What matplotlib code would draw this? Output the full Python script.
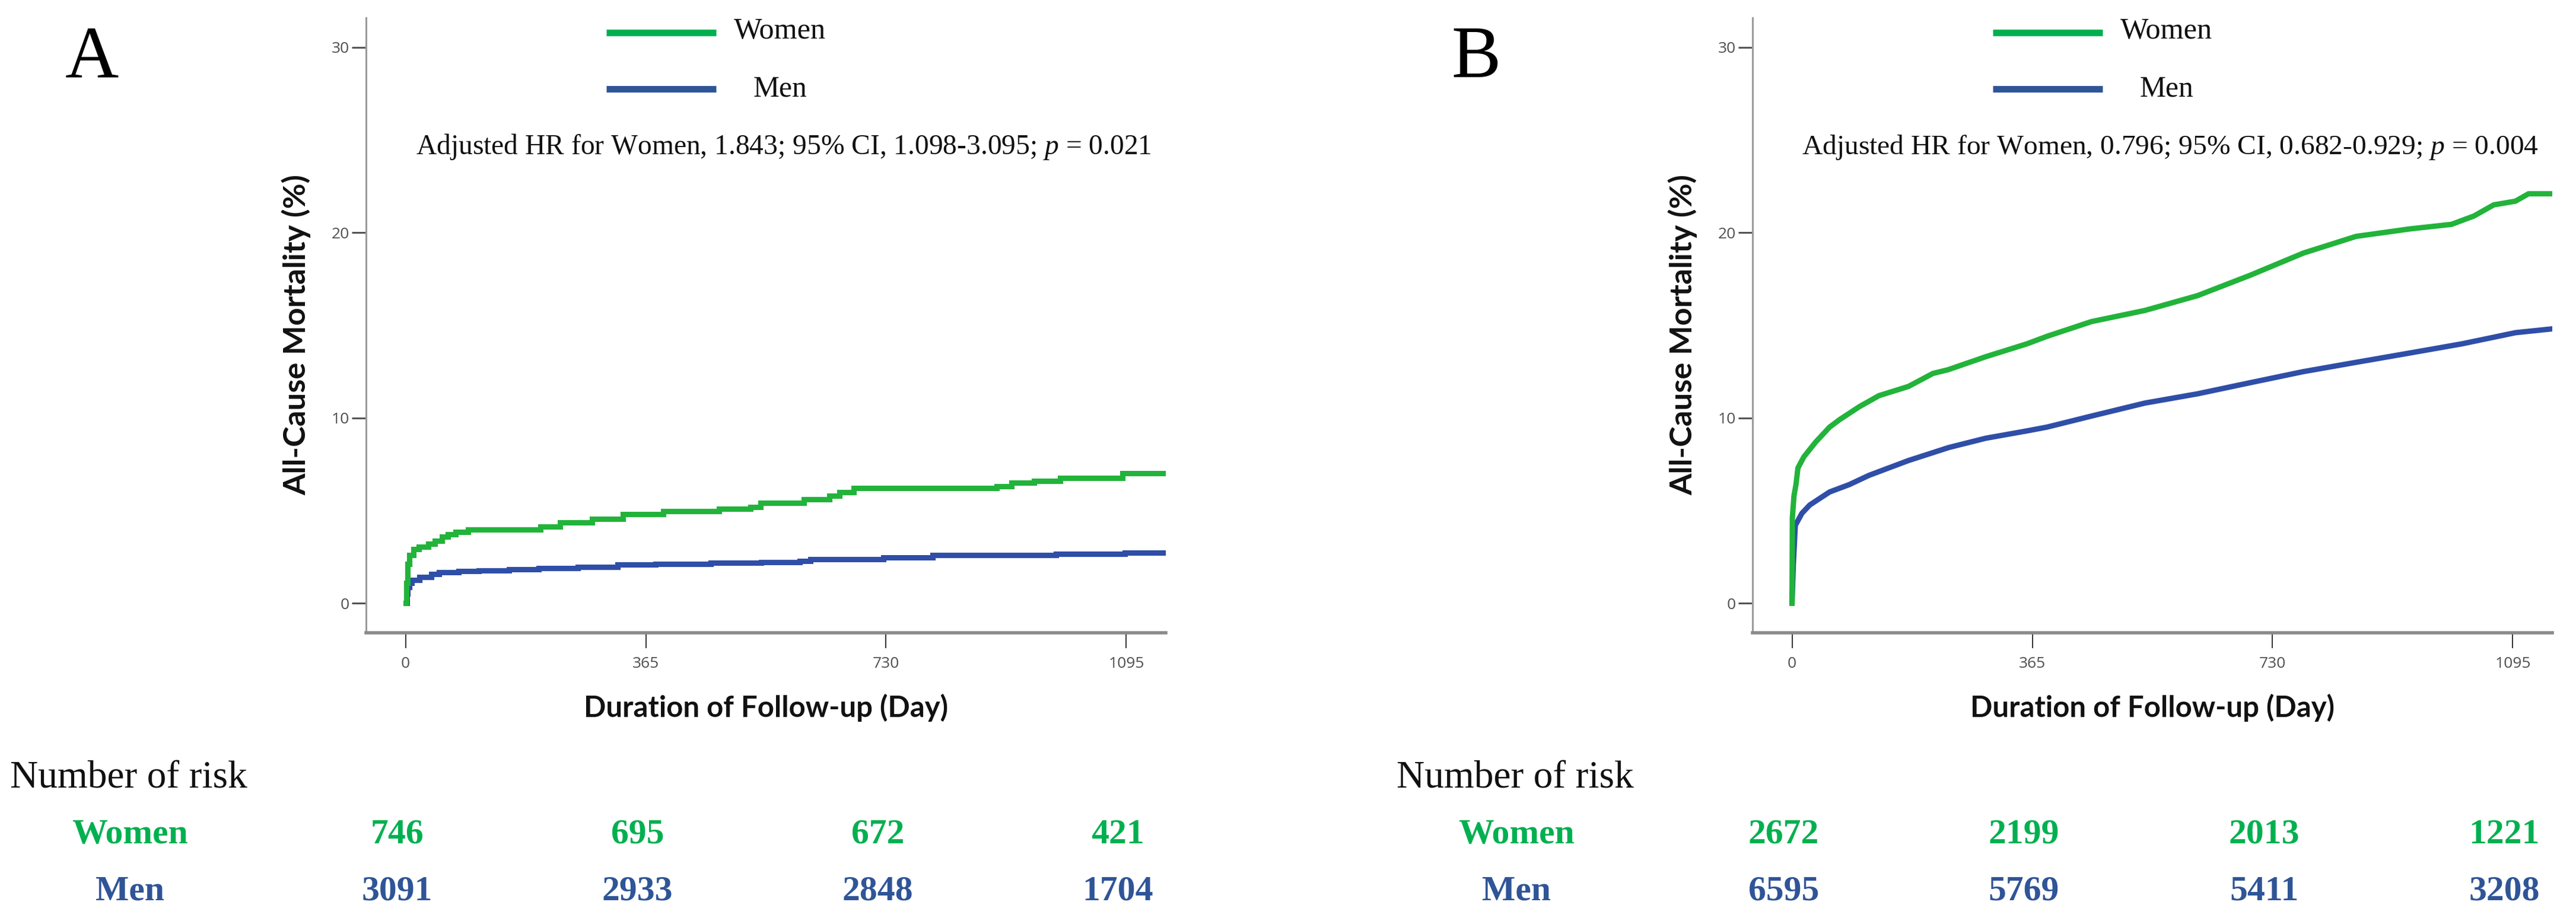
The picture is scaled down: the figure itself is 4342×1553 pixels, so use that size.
import matplotlib
matplotlib.use("Agg")
import matplotlib.pyplot as plt
from matplotlib.lines import Line2D
import matplotlib.transforms as mtransforms

# ---------------- data ----------------
tick_days = [0, 365, 730, 1095]
y_ticks = [0, 10, 20, 30]

# Panel A (Kaplan-Meier cumulative mortality, %)
a_women_day = [0, 1, 3, 6, 12, 20, 35, 45, 55, 64, 76, 95, 205, 235, 283, 330, 392,
               476, 524, 539, 605, 644, 659, 681, 898, 921, 955, 995, 1089, 1156]
a_women_val = [0, 1.1, 2.1, 2.6, 2.9, 3.05, 3.2, 3.37, 3.6, 3.7, 3.85, 3.96, 4.14, 4.35,
               4.55, 4.8, 4.95, 5.1, 5.2, 5.4, 5.6, 5.8, 6.0, 6.2, 6.3, 6.5, 6.6, 6.75,
               7.0, 7.0]
a_men_day = [0, 2, 3, 6, 9, 21, 39, 51, 81, 111, 157, 202, 262, 322, 380, 464, 540,
             599, 615, 726, 801, 988, 1093, 1156]
a_men_val = [0, 0.5, 0.86, 1.1, 1.24, 1.4, 1.56, 1.66, 1.72, 1.75, 1.83, 1.88, 1.96,
             2.07, 2.12, 2.19, 2.22, 2.26, 2.37, 2.47, 2.6, 2.65, 2.72, 2.72]

# Panel B
b_women_day = [0, 0.5, 3, 6, 9, 18, 36, 57, 72, 102, 132, 177, 214, 237, 294, 357, 387,
               455, 536, 616, 696, 777, 857, 938, 1002, 1036, 1066, 1099, 1119, 1153]
b_women_val = [0, 4.6, 5.8, 6.4, 7.3, 7.9, 8.7, 9.5, 9.9, 10.6, 11.2, 11.7, 12.4, 12.6,
               13.3, 14.0, 14.4, 15.2, 15.8, 16.6, 17.7, 18.9, 19.8, 20.2, 20.45, 20.9,
               21.5, 21.7, 22.1, 22.1]
b_men_day = [0, 2, 5, 15, 27, 57, 87, 117, 177, 238, 294, 357, 387, 455, 536, 616, 696,
             777, 857, 938, 1018, 1099, 1153]
b_men_val = [0, 2.1, 4.2, 4.85, 5.3, 6.0, 6.4, 6.9, 7.7, 8.4, 8.9, 9.3, 9.5, 10.1, 10.8,
             11.3, 11.9, 12.5, 13.0, 13.5, 14.0, 14.6, 14.8]

a_risk_women = [746, 695, 672, 421]
a_risk_men = [3091, 2933, 2848, 1704]
b_risk_women = [2672, 2199, 2013, 1221]
b_risk_men = [6595, 5769, 5411, 3208]

a_annot = "Adjusted HR for Women, 1.843; 95% CI, 1.098-3.095; $\\mathit{p}$ = 0.021"
b_annot = "Adjusted HR for Women, 0.796; 95% CI, 0.682-0.929; $\\mathit{p}$ = 0.004"

# ---------------- style ----------------
W, H = 4342, 1553
plt.rcParams['mathtext.fontset'] = 'custom'
plt.rcParams['mathtext.rm'] = 'Liberation Serif'
plt.rcParams['mathtext.it'] = 'Liberation Serif:italic'

GREEN_LINE = '#22B33A'
BLUE_LINE = '#2F4EA8'
GREEN_TXT = '#00B050'
BLUE_TXT = '#2F5597'
SERIF = 'Liberation Serif'
SANS = 'Lato'

fig = plt.figure(figsize=(W / 100, H / 100), dpi=100)
renderer = fig.canvas.get_renderer()


def fx(px):
    return px / W


def fy(py):
    return 1 - py / H


def fit(t, target, dim='w', base=30):
    t.set_fontsize(base)
    ext = t.get_window_extent(renderer)
    cur = ext.width if dim == 'w' else ext.height
    t.set_fontsize(base * target / cur)
    return t


panels = [
    dict(left=617, letter='A', letter_x=155,
         women=(a_women_day, a_women_val), men=(a_men_day, a_men_val),
         steps=True, annot=a_annot, rw=a_risk_women, rm=a_risk_men),
    dict(left=2954, letter='B', letter_x=2488,
         women=(b_women_day, b_women_val), men=(b_men_day, b_men_val),
         steps=False, annot=b_annot, rw=b_risk_women, rm=b_risk_men),
]

ax_top, ax_bot, ax_w = 30, 1067, 1348

for p in panels:
    L = p['left']
    ax = fig.add_axes([fx(L), fy(ax_bot), ax_w / W, (ax_bot - ax_top) / H])
    ds = 'steps-post' if p['steps'] else 'default'
    ax.plot(p['men'][0], p['men'][1], color=BLUE_LINE, lw=6.5, drawstyle=ds,
            solid_joinstyle='miter', zorder=3)
    ax.plot(p['women'][0], p['women'][1], color=GREEN_LINE, lw=6.5, drawstyle=ds,
            solid_joinstyle='miter', zorder=4)
    ax.set_xlim(-60, 1155)
    ax.set_ylim(-1.6, 31.6)
    ax.set_xticks(tick_days)
    ax.set_yticks(y_ticks)
    for s in ['top', 'right']:
        ax.spines[s].set_visible(False)
    ax.spines['left'].set_color('#9a9a9a')
    ax.spines['left'].set_linewidth(2.2)
    ax.spines['bottom'].set_color('#8a8a8a')
    ax.spines['bottom'].set_linewidth(4)
    ax.tick_params(axis='y', direction='out', length=17, width=2.2, color='#555555',
                   pad=3, labelsize=19, labelcolor='#505050')
    ax.tick_params(axis='x', direction='out', length=19, width=1.4, color='#333333',
                   pad=10, labelsize=19, labelcolor='#505050')
    for lab in ax.get_xticklabels() + ax.get_yticklabels():
        lab.set_family('Open Sans')

    ax.set_ylabel('All-Cause Mortality (%)', fontfamily=SANS, fontweight='bold',
                  color='#111111')
    ax.yaxis.set_label_coords(-118 / ax_w, 0.485)
    ax.yaxis.label.set_va('center')
    fit(ax.yaxis.label, 540, dim='h')
    ax.set_xlabel('Duration of Follow-up (Day)', fontfamily=SANS, fontweight='bold',
                  color='#111111')
    ax.xaxis.set_label_coords(0.5, -(1193 - ax_bot) / (ax_bot - ax_top))
    ax.xaxis.label.set_va('center')
    fit(ax.xaxis.label, 614)

    # annotation
    t = ax.text(0.5 + 30 / ax_w, fy(248), p['annot'], ha='center', va='center',
                family=SERIF, color='#111111',
                transform=mtransforms.blended_transform_factory(ax.transAxes, fig.transFigure))
    fit(t, 1240)

    # panel letter
    fig.text(fx(p['letter_x']), fy(100), p['letter'], ha='center', va='center',
             family=SERIF, fontsize=90, color='black')

    # legend
    x0, x1 = L + 405, L + 590
    fig.add_artist(Line2D([fx(x0), fx(x1)], [fy(55), fy(55)], color=GREEN_TXT,
                          lw=8, solid_capstyle='butt', transform=fig.transFigure))
    fig.add_artist(Line2D([fx(x0), fx(x1)], [fy(150), fy(150)], color=BLUE_TXT,
                          lw=8, solid_capstyle='butt', transform=fig.transFigure))
    tw = fig.text(fx(L + 620), fy(53), 'Women', ha='left', va='center', family=SERIF,
                  color='#111111')
    fit(tw, 155)
    tm = fig.text(fx(L + 653), fy(150), 'Men', ha='left', va='center', family=SERIF,
                  color='#111111')
    fit(tm, 91)

    # number at risk table
    tn = fig.text(fx(L - 600), fy(1313), 'Number of risk', ha='left', va='center',
                  family=SERIF, color='#111111')
    fit(tn, 400)
    fig.text(fx(L - 398), fy(1408), 'Women', ha='center', va='center', family=SERIF,
             fontweight='bold', fontsize=43, color=GREEN_TXT)
    fig.text(fx(L - 398), fy(1504), 'Men', ha='center', va='center', family=SERIF,
             fontweight='bold', fontsize=43, color=BLUE_TXT)
    off = mtransforms.ScaledTranslation(-14 / 100, 0, fig.dpi_scale_trans)
    trans = mtransforms.blended_transform_factory(ax.transData, fig.transFigure) + off
    for d, nw, nm in zip(tick_days, p['rw'], p['rm']):
        ax.text(d, fy(1408), str(nw), ha='center', va='center', family=SERIF,
                fontweight='bold', fontsize=43, color=GREEN_TXT, transform=trans,
                clip_on=False)
        ax.text(d, fy(1504), str(nm), ha='center', va='center', family=SERIF,
                fontweight='bold', fontsize=43, color=BLUE_TXT, transform=trans,
                clip_on=False)

fig.savefig('out.png', dpi=100, facecolor='white')
